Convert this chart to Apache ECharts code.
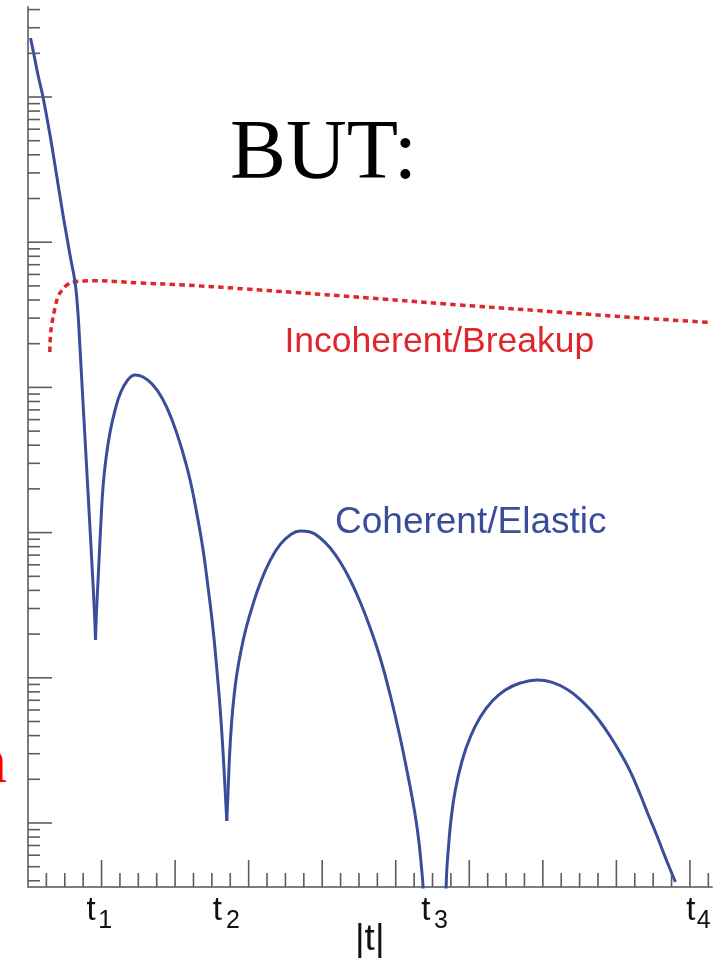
<!DOCTYPE html>
<html>
<head>
<meta charset="utf-8">
<script src="https://cdn.jsdelivr.net/npm/echarts@6/dist/echarts.min.js"></script>
<style>
  html, body { margin: 0; padding: 0; background: #fff; }
  #chart { width: 717px; height: 962px; }
</style>
</head>
<body>
<div id="chart"></div>
<script>
// Coherent (elastic) cross section, one array pair per lobe between diffraction minima
const elasticLobe0X = [0.034, 0.082, 0.136, 0.204, 0.299, 0.395, 0.476, 0.531, 0.571, 0.605, 0.633, 0.653, 0.669, 0.684, 0.701, 0.728, 0.762, 0.799, 0.837, 0.875, 0.902, 0.918];
const elasticLobe0Y = [254900, 194700, 141800, 100000, 54740, 27680, 15390, 10690, 8163, 6643, 5579, 4687, 3813, 3006, 2121, 1198, 587.0, 269.9, 122.1, 53.54, 29.31, 18.21];

const elasticLobe1X = [0.918, 0.929, 0.946, 0.966, 0.993, 1.020, 1.061, 1.116, 1.184, 1.252, 1.347, 1.456, 1.565, 1.687, 1.823, 1.959, 2.095, 2.204, 2.299, 2.381, 2.449, 2.490, 2.531, 2.571, 2.612, 2.646, 2.673, 2.703];
const elasticLobe1Y = [18.21, 27.07, 40.24, 64.75, 122.1, 206.1, 326.5, 492.9, 698.9, 900.5, 1107, 1217, 1179, 1055, 845.3, 596.4, 370.6, 230.4, 132.2, 75.91, 41.54, 28.40, 18.21, 10.96, 6.194, 3.445, 1.978, 1.032];

const elasticLobe2X = [2.703, 2.721, 2.741, 2.769, 2.803, 2.844, 2.898, 2.966, 3.048, 3.156, 3.293, 3.429, 3.565, 3.701, 3.837, 3.973, 4.109, 4.245, 4.381, 4.517, 4.653, 4.789, 4.925, 5.061, 5.156, 5.224, 5.279, 5.320, 5.347, 5.365, 5.374];
const elasticLobe2Y = [1.032, 1.688, 2.939, 4.962, 7.612, 10.96, 15.54, 22.03, 30.73, 44.68, 64.34, 82.94, 96.43, 102.6, 100.9, 91.80, 78.32, 62.74, 47.17, 33.27, 22.03, 13.69, 7.612, 3.849, 2.245, 1.486, 1.016, 0.7055, 0.5137, 0.4049, 0.3348];

const elasticLobe3X = [5.684, 5.694, 5.714, 5.751, 5.810, 5.905, 6.014, 6.150, 6.313, 6.490, 6.694, 6.925, 7.129, 7.333, 7.510, 7.673, 7.782, 7.918, 8.054, 8.190, 8.327, 8.435, 8.531, 8.626, 8.707, 8.803];
const elasticLobe3Y = [0.3457, 0.4746, 0.6517, 1.049, 1.688, 2.716, 3.912, 5.370, 6.922, 8.241, 9.210, 9.656, 9.296, 8.307, 7.077, 5.813, 4.962, 3.942, 3.035, 2.256, 1.559, 1.135, 0.8670, 0.6517, 0.5137, 0.3924];

// Incoherent (breakup) cross section
const incoherentX = [0.297, 0.306, 0.327, 0.367, 0.408, 0.463, 0.531, 0.626, 0.762, 0.871, 1.524, 2.122, 3.156, 4.639, 5.878, 7.143, 8.327, 9.293];
const incoherentY = [1753, 2296, 2777, 3523, 4195, 4687, 5073, 5318, 5406, 5431, 5236, 5073, 4687, 4128, 3694, 3321, 3006, 2799];

// axis extents and tick values
const X_MIN = 0, X_MAX = 9.3;
const Y_MIN = 0.3624, Y_MAX = 416800;
const xMajorTicks = [1, 2, 3, 4, 5, 6, 7, 8, 9];
const xMinorTicks = [];
for (let i = 0; i <= 9; i++) {
  [0.25, 0.5, 0.75].forEach(f => { if (i + f <= X_MAX) xMinorTicks.push(i + f); });
}
const yMajorTicks = [1, 10, 100, 1000, 10000, 100000];
const yMinorTicks = [];
for (let k = -1; k <= 5; k++) {
  for (let m = 2; m <= 9; m++) {
    const v = m * Math.pow(10, k);
    if (v > Y_MIN && v < Y_MAX) yMinorTicks.push(v);
  }
}

// tick labels under the |t| axis
const tLabelMain = ['t', 't', 't', 't'];
const tLabelSub = ['1', '2', '3', '4'];
const axisTitle = '|t|';

const BLUE = '#3a4d9a';
const RED = '#de262d';
const AXIS_GREY = '#7c7c7c';
const TICK_GREY = '#5c5c5c';

function zip(xs, ys) { return xs.map((x, i) => [x, ys[i]]); }

function elasticSeries(xs, ys) {
  return {
    name: 'Coherent/Elastic', type: 'line', data: zip(xs, ys),
    showSymbol: false, smooth: 0.45, clip: true, z: 3,
    lineStyle: { color: BLUE, width: 3 }
  };
}

// inward-pointing ticks drawn through the axis scales
function tickSeries(values, dir, len) {
  return {
    type: 'custom',
    silent: true,
    z: 4,
    data: values.map(v => dir === 'x' ? [v, Y_MIN] : [X_MIN, v]),
    renderItem(params, api) {
      const p = api.coord([api.value(0), api.value(1)]);
      const shape = dir === 'x'
        ? { x1: p[0], y1: p[1], x2: p[0], y2: p[1] - len }
        : { x1: p[0], y1: p[1], x2: p[0] + len, y2: p[1] };
      return { type: 'line', shape, style: { stroke: TICK_GREY, lineWidth: 1.6 } };
    }
  };
}

const sans = '"Liberation Sans", Arial, Helvetica, sans-serif';
const serif = '"Liberation Serif", "Times New Roman", serif';

function txt(text, x, y, size, family, fill) {
  return {
    type: 'text', x, y, silent: true, z: 10,
    style: { text, font: size + 'px ' + family, fill, align: 'left', verticalAlign: 'middle' }
  };
}

const tMainX = [86.5, 212.8, 421.2, 686.2];
const tSubX = [98.3, 226, 434, 696.7];
const graphics = [
  txt('BUT:', 230, 155.6, 84, serif, '#000'),
  txt('Incoherent/Breakup', 284.5, 342.6, 35.5, sans, RED),
  txt('Coherent/Elastic', 335, 523, 37, sans, BLUE),
  txt('n', -25, 765, 64, serif, '#ff0000'),
  txt(axisTitle, 355, 940, 37, sans, '#111')
];
tLabelMain.forEach((t, i) => {
  graphics.push(txt(t, tMainX[i], 910.5, 33, sans, '#111'));
  graphics.push(txt(tLabelSub[i], tSubX[i], 921.5, 25, sans, '#111'));
});

const chart = echarts.init(document.getElementById('chart'), null, { renderer: 'canvas' });
chart.setOption({
  animation: false,
  backgroundColor: '#fff',
  grid: { left: 28, right: 5, top: 7, bottom: 75, containLabel: false },
  xAxis: {
    type: 'value', min: X_MIN, max: X_MAX,
    axisLine: { show: true, onZero: false, lineStyle: { color: AXIS_GREY, width: 2 } },
    axisTick: { show: false }, axisLabel: { show: false }, splitLine: { show: false }
  },
  yAxis: {
    type: 'log', logBase: 10, min: Y_MIN, max: Y_MAX,
    axisLine: { show: true, lineStyle: { color: AXIS_GREY, width: 2 } },
    axisTick: { show: false }, axisLabel: { show: false }, splitLine: { show: false }
  },
  graphic: graphics,
  series: [
    elasticSeries(elasticLobe0X, elasticLobe0Y),
    elasticSeries(elasticLobe1X, elasticLobe1Y),
    elasticSeries(elasticLobe2X, elasticLobe2Y),
    elasticSeries(elasticLobe3X, elasticLobe3Y),
    {
      name: 'Incoherent/Breakup', type: 'line', data: zip(incoherentX, incoherentY),
      showSymbol: false, smooth: true, clip: true, z: 2,
      lineStyle: { color: RED, width: 3.5, type: [5.5, 4.2] }
    },
    tickSeries(xMajorTicks, 'x', 27),
    tickSeries(xMinorTicks, 'x', 14),
    tickSeries(yMajorTicks, 'y', 24),
    tickSeries(yMinorTicks, 'y', 12)
  ]
});
</script>
</body>
</html>
